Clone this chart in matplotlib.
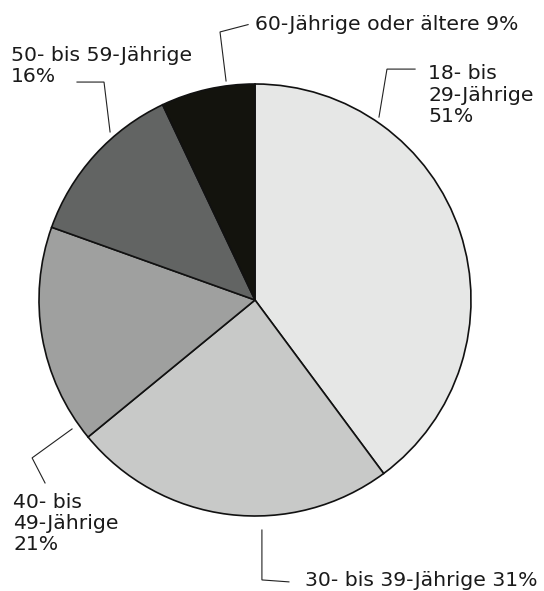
import matplotlib.pyplot as plt

# Altersgruppen und Anteile
groups = ["18- bis\n29-Jährige", "30- bis 39-Jährige", "40- bis\n49-Jährige",
          "50- bis 59-Jährige", "60-Jährige oder ältere"]
shares = [51, 31, 21, 16, 9]
label_sep = ["\n", " ", "\n", "\n", " "]

COLORS = ["#e6e7e6", "#c8c9c8", "#9fa09f", "#626463", "#13130d"]
TEXT_COLOR = "#1a1a1a"
FONTSIZE = 14.7

# leader lines (pie radius = 1) and label anchors
LEADERS = [
    [(0.574, 0.847), (0.611, 1.069), (0.741, 1.069)],
    [(0.032, -1.065), (0.032, -1.296), (0.157, -1.305)],
    [(-0.847, -0.597), (-1.032, -0.731), (-0.972, -0.847)],
    [(-0.671, 0.778), (-0.699, 1.009), (-0.824, 1.009)],
    [(-0.134, 1.014), (-0.162, 1.241), (-0.032, 1.275)],
]
LABEL_POS = [(0.801, 0.949), (0.231, -1.299), (-1.120, -1.035),
             (-1.130, 1.083), (0.0, 1.275)]

fig = plt.figure(figsize=(5.44, 5.91), dpi=100)
ax = fig.add_axes([0, 0, 1, 1])

ax.pie(shares, colors=COLORS, startangle=90, counterclock=False, radius=1,
       wedgeprops=dict(edgecolor="#111111", linewidth=1.2))

for pts, (tx, ty), name, sep, val in zip(LEADERS, LABEL_POS, groups, label_sep, shares):
    xs, ys = zip(*pts)
    ax.plot(xs, ys, color="#222222", linewidth=0.8, solid_joinstyle="miter")
    ax.text(tx, ty, f"{name}{sep}{val}%", ha="left", va="center",
            fontsize=FONTSIZE, color=TEXT_COLOR, linespacing=1.15,
            family="DejaVu Sans")

ax.set_xlim(-255 / 216, 289 / 216)
ax.set_ylim(-291 / 216, 300 / 216)
ax.axis("off")

fig.savefig("out.png", dpi=100, facecolor="white")
